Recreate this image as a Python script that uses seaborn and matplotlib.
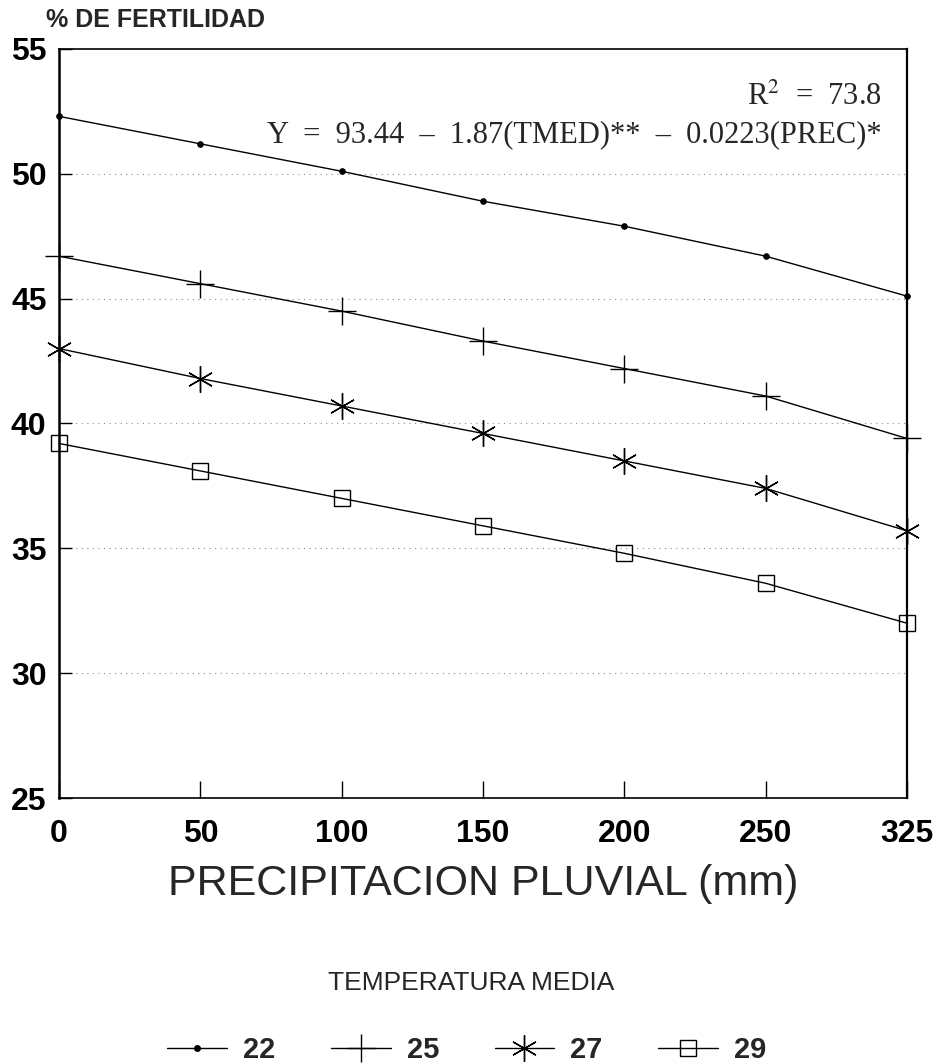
import matplotlib
matplotlib.use('Agg')
import matplotlib.pyplot as plt
import seaborn as sns
import pandas as pd
from matplotlib.lines import Line2D

# Data
precip_labels = ['0', '50', '100', '150', '200', '250', '325']
temps = ['22', '25', '27', '29']
fert_22 = [52.3, 51.2, 50.1, 48.9, 47.9, 46.7, 45.1]
fert_25 = [46.7, 45.6, 44.5, 43.3, 42.2, 41.1, 39.4]
fert_27 = [43.0, 41.8, 40.7, 39.6, 38.5, 37.4, 35.7]
fert_29 = [39.2, 38.1, 37.0, 35.9, 34.8, 33.6, 32.0]
y_ticks = [25, 30, 35, 40, 45, 50, 55]

series = {'22': fert_22, '25': fert_25, '27': fert_27, '29': fert_29}
rows = []
for t in temps:
    for i, v in enumerate(series[t]):
        rows.append({'pos': i, 'fert': v, 'temp': t})
df = pd.DataFrame(rows)

sns.set_style('ticks')
plt.rcParams['font.family'] = ['Liberation Sans', 'DejaVu Sans']
plt.rcParams['mathtext.fontset'] = 'stix'

marker_style = {
    '22': dict(marker='o', markersize=4, mfc='black'),
    '25': dict(marker='+', markersize=20, mew=1.0),
    '27': dict(marker=(6, 2, 0), markersize=19, mew=1.0),
    '29': dict(marker='s', markersize=12, mfc='none', mew=1.0),
}

fig = plt.figure(figsize=(9.43, 10.64), dpi=100)
ax = fig.add_axes([0.0626, 0.2500, 0.8992, 0.7040])

for t in temps:
    sub = df[df['temp'] == t]
    sns.lineplot(data=sub, x='pos', y='fert', ax=ax, color='black', linewidth=1.0,
                 mec='black', clip_on=False, zorder=5, **marker_style[t])

ax.set_xlim(0, 6)
ax.set_ylim(25, 55)
ax.set_xticks(range(len(precip_labels)))
ax.set_xticklabels(precip_labels)
ax.set_yticks(y_ticks)
ax.tick_params(direction='in', width=1, colors='black', labelsize=23)
ax.tick_params(axis='x', length=12, pad=15)
ax.tick_params(axis='y', length=9, pad=9)
for lab in ax.get_xticklabels() + ax.get_yticklabels():
    lab.set_fontweight('bold')
for sp in ax.spines.values():
    sp.set_visible(True)
    sp.set_linewidth(1.2)
    sp.set_color('black')
ax.spines['left'].set_linewidth(1.8)
ax.spines['right'].set_linewidth(1.6)
for yv in [30, 35, 40, 45, 50]:
    ax.axhline(yv, color='0.55', linestyle=(0, (1, 4)), linewidth=0.8, zorder=0)

ax.set_xlabel('PRECIPITACION PLUVIAL (mm)', fontsize=31, labelpad=11)
ax.set_ylabel('')
fig.text(0.049, 0.981, '% DE FERTILIDAD', fontsize=18, fontweight='bold', ha='left', va='center')

ax.text(0.970, 0.935, r'R$^{2}$  =  73.8', transform=ax.transAxes,
        ha='right', va='center', fontsize=22, family='Liberation Serif')
ax.text(0.970, 0.886, 'Y  =  93.44  –  1.87(TMED)**  –  0.0223(PREC)*',
        transform=ax.transAxes, ha='right', va='center', fontsize=22, family='Liberation Serif')

fig.text(0.5, 1 - 983 / 1064, 'TEMPERATURA MEDIA', fontsize=19, ha='center', va='center')
handles = [Line2D([0], [0], color='black', linewidth=1.0, mec='black', **marker_style[t]) for t in temps]
leg = fig.legend(handles, temps, loc='center', bbox_to_anchor=(0.495, 1 - 1050 / 1064), ncol=4,
                 frameon=False, fontsize=21, handlelength=2.05, columnspacing=1.9,
                 handletextpad=0.55, borderpad=0)
for txt in leg.get_texts():
    txt.set_fontweight('bold')

fig.savefig('out.png', dpi=100)
